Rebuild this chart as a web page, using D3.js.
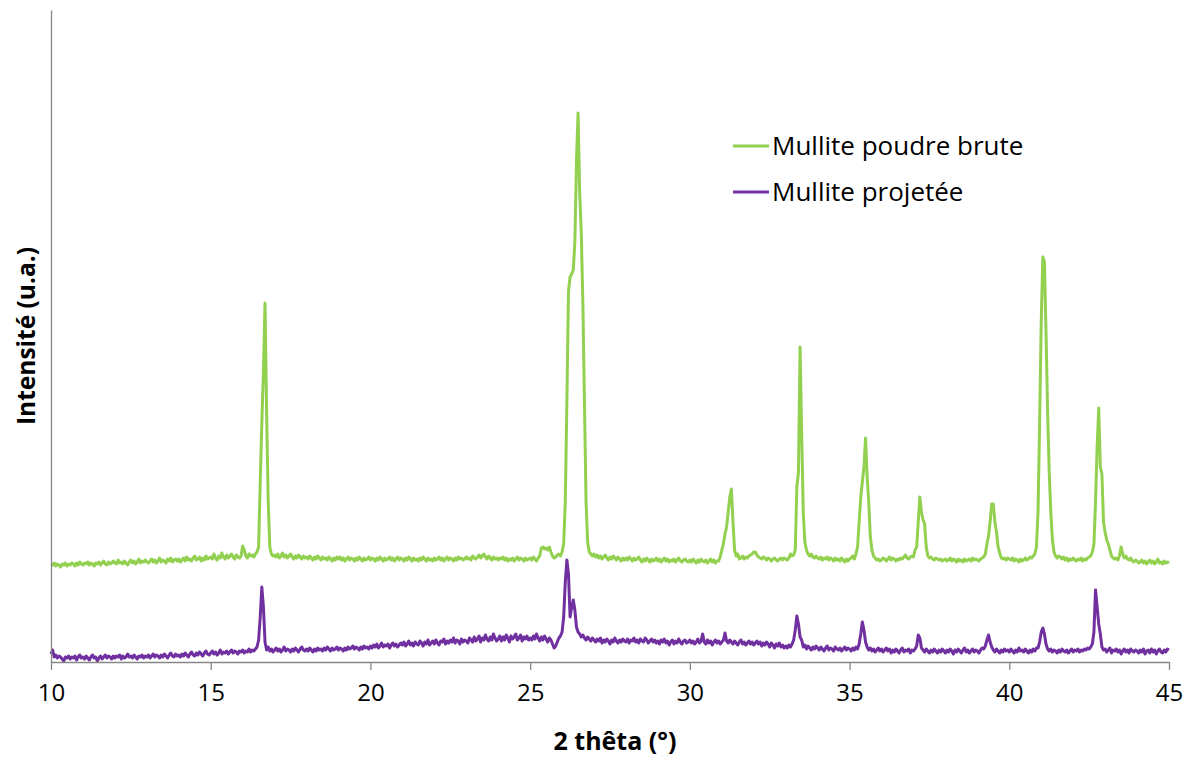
<!DOCTYPE html>
<html>
<head>
<meta charset="utf-8">
<script src="https://cdn.jsdelivr.net/npm/d3@7"></script>
<style>
  html, body { margin: 0; padding: 0; background: #fff; }
  svg { display: block; }
</style>
</head>
<body>
<svg id="chart" width="1194" height="760"></svg>
<script>
// 2θ grid: 10° to 45° in 0.05° steps (one row per degree below)
const thetaStart = 10;
const thetaStep = 0.05;
const xTicks = [10, 15, 20, 25, 30, 35, 40, 45];
const seriesNames = ["Mullite poudre brute", "Mullite projetée"];
const seriesColors = ["#92D050", "#7030A0"];

// Intensité (u.a.) — Mullite poudre brute
const poudreBrute = [
  98,97,99,96,98,97,95,98,97,99,96,98,97,99,98,96,99,97,100,98,
  97,99,98,100,97,99,98,96,99,98,100,97,99,101,98,97,100,98,99,101,
  99,98,102,99,100,98,101,99,97,100,102,99,101,98,100,103,99,101,100,102,
  100,99,101,103,100,102,99,101,104,100,102,101,99,103,101,104,100,102,103,101,
  103,100,102,104,101,105,102,103,101,104,106,102,103,105,101,104,102,106,103,104,
  105,103,108,104,102,106,104,109,105,103,107,104,106,108,105,103,107,105,104,106,
  116,112,106,104,108,106,107,105,108,110,115,180,239,290,359,250,160,115,108,106,
  107,105,108,104,106,109,105,107,104,106,108,105,103,106,104,107,105,103,106,104,
  105,103,106,104,102,105,103,106,104,102,105,103,104,102,105,103,101,104,102,105,
  103,105,102,104,101,103,105,102,104,103,101,104,102,105,103,101,104,102,103,105,
  102,104,103,101,104,102,105,103,101,104,102,103,105,102,104,101,103,105,102,104,
  103,101,104,102,105,103,101,104,102,103,101,104,102,105,103,101,104,102,103,101,
  104,102,103,105,102,104,101,103,105,102,104,103,101,104,102,105,103,104,102,103,
  105,103,104,102,106,104,103,105,107,104,106,108,105,103,106,104,102,105,103,104,
  102,104,103,105,102,104,101,103,102,104,101,103,105,102,104,103,101,104,102,103,
  104,102,105,103,101,104,106,114,115,113,114,112,115,110,106,104,105,107,108,106,
  110,118,160,260,370,385,388,392,420,500,549,470,430,360,260,160,120,110,108,106,
  108,105,107,104,106,103,105,107,104,102,105,103,106,104,102,105,103,101,104,102,
  104,102,105,103,101,104,102,103,105,102,100,103,101,104,102,100,103,101,102,104,
  101,103,100,102,104,101,103,100,102,101,103,100,102,104,101,100,102,103,101,100,
  102,100,103,101,99,102,100,103,101,100,102,99,101,103,100,102,99,101,101,105,
  112,118,128,135,150,165,173,140,112,106,108,103,104,106,103,105,104,106,107,108,
  110,110,107,105,104,103,105,104,102,104,103,101,103,104,102,101,103,104,102,104,
  103,102,104,108,106,107,112,175,190,315,230,150,120,112,108,106,108,105,104,106,
  104,103,105,102,104,103,105,102,104,103,101,104,102,103,101,104,102,100,103,101,
  103,104,106,103,108,115,140,165,180,195,224,185,160,125,112,106,104,102,103,101,
  102,104,103,101,103,105,102,104,103,101,103,102,104,103,105,107,104,103,105,106,
  105,112,115,140,165,150,142,138,115,106,104,105,103,102,104,103,102,103,101,102,
  103,101,102,104,101,103,102,100,103,101,102,100,103,101,102,103,101,104,102,103,
  102,101,103,104,105,108,118,126,140,158,158,140,130,115,109,104,103,104,102,104,
  103,102,104,101,103,102,100,103,101,102,104,102,103,105,104,106,108,115,150,240,
  340,405,400,330,250,190,150,122,110,106,104,106,105,103,105,102,104,101,103,102,
  104,102,101,103,102,104,101,103,102,104,105,106,110,118,160,215,254,195,188,140,
  130,122,118,112,106,104,103,104,102,106,115,108,104,106,103,102,104,101,100,102,
  101,99,100,102,99,101,98,100,102,99,101,98,100,103,99,100,98,101,99,100,
  99
];

// Intensité (u.a.) — Mullite projetée
const projetee = [
  8,12,5,7,4,6,5,3,1,5,4,6,3,5,4,6,2,5,7,4,
  5,3,6,4,2,5,7,4,5,1,4,6,3,5,7,4,6,5,3,6,
  4,6,5,7,3,6,4,5,8,5,6,4,7,5,3,6,5,7,4,6,
  5,7,4,6,8,5,7,6,4,7,5,8,6,4,7,9,6,5,8,6,
  7,5,8,6,9,7,5,8,10,7,6,9,7,10,8,6,9,11,8,7,
  9,11,8,10,7,9,12,8,10,9,11,8,10,12,9,11,10,8,11,10,
  12,9,11,10,13,10,12,11,13,15,22,45,75,55,20,12,15,11,13,10,
  12,14,11,13,10,12,15,11,13,12,10,13,11,14,12,10,13,15,12,11,
  13,11,14,12,10,13,11,14,12,13,11,14,12,15,13,11,14,12,13,15,
  12,14,13,11,14,12,15,13,14,16,13,15,14,12,15,13,16,14,15,13,
  16,14,17,15,18,14,16,19,15,17,16,18,14,17,19,16,18,15,17,19,
  17,20,16,18,21,17,19,16,20,18,17,21,19,16,20,18,22,17,19,21,
  18,22,19,17,21,20,23,18,21,19,22,20,24,19,22,21,18,23,20,22,
  21,19,24,22,20,25,21,23,26,20,24,22,27,23,21,25,22,28,24,21,
  23,26,21,25,22,27,24,20,26,23,25,28,22,24,27,21,25,23,26,22,
  24,22,26,23,28,24,21,25,22,26,23,20,24,22,18,14,16,20,24,26,
  30,45,80,102,88,45,55,62,52,35,30,28,25,27,24,22,25,23,21,24,
  22,20,23,21,24,19,22,20,23,21,18,22,20,24,21,19,22,20,23,21,
  20,23,19,22,21,24,20,22,19,23,21,20,24,22,19,21,23,20,22,19,
  21,18,22,20,23,19,21,17,20,22,18,21,19,23,20,18,21,22,19,20,
  22,19,21,18,20,23,19,21,28,20,18,22,19,21,17,20,22,19,21,18,
  20,22,29,21,19,22,20,18,21,19,17,20,22,18,20,17,19,21,18,20,
  17,19,21,18,20,16,19,17,20,18,15,19,17,14,18,16,19,15,17,14,
  16,14,17,15,18,22,32,46,38,25,22,15,17,13,16,14,12,15,13,16,
  14,12,15,13,11,14,16,12,14,13,11,15,13,12,14,11,13,15,12,14,
  13,11,14,12,15,13,18,28,40,32,20,15,12,14,11,13,10,12,14,11,
  13,10,12,14,11,13,9,12,10,13,11,9,12,14,10,12,11,13,9,12,
  11,13,16,27,24,14,12,10,13,11,9,12,10,13,11,9,12,10,13,11,
  9,12,10,13,11,8,12,10,13,11,9,12,14,10,12,9,11,13,10,12,
  11,9,12,14,13,16,22,27,20,15,12,10,13,11,9,12,10,13,11,12,
  10,13,11,9,12,10,14,11,12,10,13,11,9,12,10,13,11,14,14,20,
  30,34,28,18,13,11,13,10,12,11,9,12,10,13,11,10,12,9,11,13,
  10,12,11,13,10,12,11,13,12,14,13,15,18,30,72,55,38,28,15,12,
  13,10,12,14,9,12,11,13,10,12,8,11,13,10,12,9,13,11,10,12,
  11,9,12,10,13,8,11,12,9,13,10,12,8,11,13,10,9,12,10,13,
  12
];

const svg = d3.select("#chart");
const W = 1194, H = 760;
const margin = { left: 51, right: 25, top: 10, bottom: 98 };
const x = d3.scaleLinear().domain([10, 45]).range([margin.left, W - margin.right]);
const y = d3.scaleLinear().domain([0, 652]).range([H - margin.bottom, margin.top]);

const font = "'Open Sans', sans-serif";
const axisColor = "#868686";

function toPoints(arr) {
  return arr.map((v, i) => ({ t: thetaStart + i * thetaStep, v }));
}

const line = d3.line().x(d => x(d.t)).y(d => y(d.v));

const data = [poudreBrute, projetee];
data.forEach((arr, k) => {
  svg.append("path")
    .datum(toPoints(arr))
    .attr("fill", "none")
    .attr("stroke", seriesColors[k])
    .attr("stroke-width", 3)
    .attr("stroke-linejoin", "round")
    .attr("d", line);
});

// Y axis (no ticks)
const yAxis = svg.append("g").attr("transform", `translate(${margin.left},0)`)
  .call(d3.axisLeft(y).tickValues([]).tickSizeOuter(0));
yAxis.select(".domain").attr("stroke", axisColor).attr("stroke-width", 1.3);

// X axis
const xAxis = svg.append("g").attr("transform", `translate(0,${H - margin.bottom})`)
  .call(d3.axisBottom(x).tickValues(xTicks).tickSize(8).tickSizeOuter(0).tickPadding(14).tickFormat(d3.format("d")));
xAxis.select(".domain").attr("stroke", axisColor).attr("stroke-width", 1.3);
xAxis.selectAll(".tick line").attr("stroke", axisColor).attr("stroke-width", 1.3);
xAxis.selectAll(".tick text").attr("fill", "#000").style("font-family", font).style("font-size", "24px");

// Axis titles
svg.append("text")
  .attr("x", 615)
  .attr("y", 750)
  .attr("text-anchor", "middle")
  .style("font-family", font).style("font-size", "25px").style("font-weight", "bold")
  .text("2 thêta (°)");

svg.append("text")
  .attr("transform", "translate(35,336) rotate(-90)")
  .attr("text-anchor", "middle")
  .style("font-family", font).style("font-size", "24.5px").style("font-weight", "bold")
  .text("Intensité (u.a.)");

// Legend
const legend = svg.append("g").attr("transform", "translate(733,146)");
seriesNames.forEach((name, k) => {
  const g = legend.append("g").attr("transform", `translate(0,${k * 46})`);
  g.append("line").attr("x1", 0).attr("x2", 36).attr("y1", 0).attr("y2", 0)
    .attr("stroke", seriesColors[k]).attr("stroke-width", 3);
  g.append("text").attr("x", 39).attr("y", 0).attr("dy", "0.35em")
    .style("font-family", font).style("font-size", "26px").attr("fill", "#000")
    .text(name);
});
</script>
</body>
</html>
